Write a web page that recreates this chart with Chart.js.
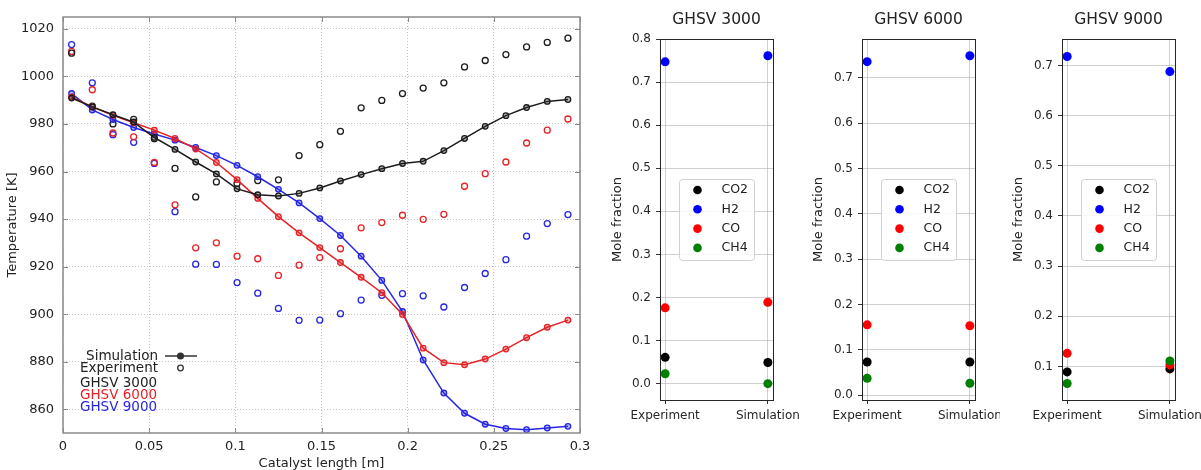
<!DOCTYPE html>
<html><head><meta charset="utf-8">
<script src="https://cdn.jsdelivr.net/npm/chart.js@4.4.1/dist/chart.umd.min.js"></script>
<style>
html,body{margin:0;padding:0;background:#fff;width:1201px;height:470px;overflow:hidden;}
canvas{position:absolute;top:0;}
</style></head><body>
<canvas id="main" width="600" height="470" style="left:0;width:600px;height:470px"></canvas>
<canvas id="p1" width="200" height="470" style="left:600px;width:200px;height:470px"></canvas>
<canvas id="p2" width="200" height="470" style="left:800px;width:200px;height:470px"></canvas>
<canvas id="p3" width="201" height="470" style="left:1000px;width:201px;height:470px"></canvas>
<script>
// ---------- data: temperature profiles ----------
const lengths = [0.005, 0.017, 0.029, 0.041, 0.053, 0.065, 0.077, 0.089, 0.101, 0.113, 0.125, 0.137, 0.149,
                 0.161, 0.173, 0.185, 0.197, 0.209, 0.221, 0.233, 0.245, 0.257, 0.269, 0.281, 0.293];
const sim3000 = [990.9, 987.2, 983.9, 980.8, 974.3, 969.3, 964.0, 959.0, 952.7, 950.2, 949.7, 950.8, 953.1,
                 956.0, 958.7, 961.2, 963.4, 964.3, 968.8, 973.9, 979.0, 983.5, 986.9, 989.5, 990.3];
const exp3000 = [1009.8, 987.5, 980.0, 981.9, 973.8, 961.3, 949.3, 955.6, 955.0, 956.2, 956.5, 966.7, 971.3,
                 976.9, 986.8, 989.9, 992.8, 995.1, 997.3, 1004.0, 1006.7, 1009.2, 1012.4, 1014.3, 1016.1];
const sim6000 = [991.4, 987.2, 983.7, 980.5, 977.4, 973.9, 969.5, 963.8, 956.6, 948.7, 941.0, 934.2, 928.0,
                 921.7, 915.5, 909.0, 899.9, 885.7, 879.6, 878.7, 881.1, 885.3, 890.1, 894.5, 897.5];
const exp6000 = [1010.5, 994.4, 976.2, 974.6, 963.8, 946.0, 927.9, 930.0, 924.4, 923.3, 916.3, 920.6, 923.8,
                 927.5, 936.3, 938.5, 941.6, 939.9, 942.0, 953.8, 959.1, 964.0, 972.0, 977.4, 982.1];
const sim9000 = [992.8, 985.9, 981.9, 978.5, 975.8, 973.2, 970.1, 966.7, 962.6, 957.8, 952.5, 946.8, 940.2,
                 933.1, 924.4, 914.2, 901.1, 880.7, 866.8, 858.3, 853.7, 851.9, 851.4, 852.1, 852.8];
const exp9000 = [1013.4, 997.3, 975.5, 972.3, 963.4, 943.1, 921.0, 920.9, 913.3, 908.8, 902.4, 897.4, 897.5,
                 900.2, 905.9, 907.9, 908.6, 907.7, 903.0, 911.2, 917.1, 922.9, 932.8, 938.1, 941.9];
const tempTicks = [860, 880, 900, 920, 940, 960, 980, 1000, 1020];
const lengthTicks = [0, 0.05, 0.1, 0.15, 0.2, 0.25, 0.3];
const lengthTickLabels = ['0', '0.05', '0.1', '0.15', '0.2', '0.25', '0.3'];

// ---------- data: outlet composition ----------
const species = ['CO2', 'H2', 'CO', 'CH4'];
const stages = ['Experiment', 'Simulation'];
const ghsv3000Experiment = [0.061, 0.747, 0.176, 0.023];
const ghsv3000Simulation = [0.049, 0.761, 0.189, 0.000];
const ghsv6000Experiment = [0.073, 0.736, 0.155, 0.037];
const ghsv6000Simulation = [0.073, 0.749, 0.153, 0.026];
const ghsv9000Experiment = [0.089, 0.718, 0.126, 0.066];
const ghsv9000Simulation = [0.095, 0.688, 0.103, 0.111];
const ticks3000 = [0, 0.1, 0.2, 0.3, 0.4, 0.5, 0.6, 0.7, 0.8];
const ticks6000 = [0, 0.1, 0.2, 0.3, 0.4, 0.5, 0.6, 0.7];
const ticks9000 = [0.1, 0.2, 0.3, 0.4, 0.5, 0.6, 0.7];

// ---------- styling ----------
const FONT = 'DejaVu Sans';
const cBlack = '#1c1c1c', cRed = 'rgb(230,34,38)', cBlue = 'rgb(38,38,228)';
const speciesColors = ['#000000', '#0000ff', '#ff0000', '#008000'];

function pts(xs, ys) { return xs.map((x, i) => ({ x: x, y: ys[i] })); }

function simSet(label, ys, col, fill) {
  return { label, data: pts(lengths, ys), showLine: true, borderColor: col, backgroundColor: col,
    borderWidth: 1.5, pointRadius: 2.8, pointBorderWidth: 1.3, pointBorderColor: col,
    pointBackgroundColor: fill, tension: 0 };
}
function expSet(label, ys, col) {
  return { label, data: pts(lengths, ys), showLine: false, borderColor: col, backgroundColor: 'rgba(0,0,0,0)',
    pointRadius: 3, pointBorderWidth: 1.3, pointBorderColor: col, pointBackgroundColor: 'rgba(255,255,255,0)' };
}

const mainDecor = {
  id: 'mainDecor',
  afterDraw(chart) {
    const { ctx, chartArea: a, scales: { x, y } } = chart;
    ctx.save();
    ctx.strokeStyle = '#8a8a8a';
    ctx.lineWidth = 1.5;
    ctx.strokeRect(a.left, a.top, a.right - a.left, a.bottom - a.top);
    ctx.lineWidth = 1;
    ctx.beginPath();
    tempTicks.forEach(v => {
      const py = Math.round(y.getPixelForValue(v)) + 0.5;
      ctx.moveTo(a.left, py); ctx.lineTo(a.left + 5, py);
      ctx.moveTo(a.right, py); ctx.lineTo(a.right - 5, py);
    });
    lengthTicks.forEach(v => {
      const px = Math.round(x.getPixelForValue(v)) + 0.5;
      ctx.moveTo(px, a.bottom); ctx.lineTo(px, a.bottom - 5);
      ctx.moveTo(px, a.top); ctx.lineTo(px, a.top + 5);
    });
    ctx.stroke();
    // key
    ctx.font = '13.5px "' + FONT + '"';
    ctx.textBaseline = 'middle';
    ctx.textAlign = 'right';
    ctx.fillStyle = '#222';
    ctx.fillText('Simulation', 158, 356);
    ctx.fillText('Experiment', 158, 368);
    ctx.strokeStyle = '#333';
    ctx.lineWidth = 1.5;
    ctx.beginPath(); ctx.moveTo(165, 356); ctx.lineTo(197, 356); ctx.stroke();
    ctx.beginPath(); ctx.arc(180.5, 356, 2.8, 0, Math.PI * 2); ctx.fillStyle = '#333'; ctx.fill(); ctx.stroke();
    ctx.lineWidth = 1.3;
    ctx.beginPath(); ctx.arc(180.5, 368, 2.8, 0, Math.PI * 2); ctx.stroke();
    ctx.textAlign = 'left';
    ctx.fillStyle = '#222'; ctx.fillText('GHSV 3000', 80, 383.5);
    ctx.fillStyle = cRed; ctx.fillText('GHSV 6000', 80, 395.5);
    ctx.fillStyle = cBlue; ctx.fillText('GHSV 9000', 80, 407);
    ctx.restore();
  }
};

new Chart(document.getElementById('main'), {
  type: 'scatter',
  data: {
    datasets: [
      simSet('Simulation GHSV 3000', sim3000, cBlack, 'rgba(40,40,40,0.35)'),
      simSet('Simulation GHSV 6000', sim6000, cRed, 'rgba(230,34,38,0.35)'),
      simSet('Simulation GHSV 9000', sim9000, cBlue, 'rgba(38,38,228,0.35)'),
      expSet('Experiment GHSV 3000', exp3000, cBlack),
      expSet('Experiment GHSV 6000', exp6000, cRed),
      expSet('Experiment GHSV 9000', exp9000, cBlue)
    ]
  },
  options: {
    responsive: false, animation: false, devicePixelRatio: 1,
    layout: { padding: { left: 0, top: 17, right: 20, bottom: 0 } },
    plugins: { legend: { display: false }, tooltip: { enabled: false }, title: { display: false } },
    scales: {
      x: {
        type: 'linear', min: 0, max: 0.3,
        afterBuildTicks(s) { s.ticks = lengthTicks.map(v => ({ value: v })); },
        afterFit(s) { s.height = 37; s.paddingLeft = 0; s.paddingRight = 0; },
        grid: { color: '#c4c4c4', lineWidth: 1, drawTicks: false },
        border: { display: false, dash: [1, 2] },
        ticks: { font: { family: FONT, size: 13 }, color: '#222', padding: 6, maxRotation: 0, autoSkip: false,
                 callback: (v, i) => lengthTickLabels[i] },
        title: { display: true, text: 'Catalyst length [m]', color: '#222',
                 font: { family: FONT, size: 13, lineHeight: 1 }, padding: { top: 0, bottom: 0 } }
      },
      y: {
        type: 'linear', min: 850, max: 1025,
        afterBuildTicks(s) { s.ticks = tempTicks.map(v => ({ value: v })); },
        afterFit(s) { s.width = 63; s.paddingTop = 0; s.paddingBottom = 0; },
        grid: { color: '#c4c4c4', lineWidth: 1, drawTicks: false },
        border: { display: false, dash: [1, 2] },
        ticks: { font: { family: FONT, size: 13 }, color: '#222', padding: 9, callback: v => String(v) },
        title: { display: true, text: 'Temperature [K]', color: '#222',
                 font: { family: FONT, size: 13, lineHeight: 1 }, padding: { top: 6, bottom: 0 } }
      }
    }
  },
  plugins: [mainDecor]
});

// ---------- composition panels ----------
function makePanel(id, title, expVals, simVals, yMin, yMax, yTicks, L, R, titlePad) {
  const deco = {
    id: 'deco_' + id,
    afterDraw(chart) {
      const { ctx, chartArea: a } = chart;
      ctx.save();
      ctx.strokeStyle = '#262626'; ctx.lineWidth = 1;
      ctx.strokeRect(Math.round(a.left) + 0.5, Math.round(a.top) + 0.5,
                     Math.round(a.right - a.left), Math.round(a.bottom - a.top));
      const cx = (a.left + a.right) / 2;
      ctx.fillStyle = '#222';
      ctx.font = '15.5px "' + FONT + '"';
      ctx.textAlign = 'center'; ctx.textBaseline = 'middle';
      ctx.fillText(title, cx, 20);
      // legend box
      const bw = 75, bh = 81;
      const bx = cx - bw / 2, by = (a.top + a.bottom) / 2 - bh / 2;
      ctx.beginPath();
      if (ctx.roundRect) ctx.roundRect(bx + 0.5, by + 0.5, bw, bh, 3); else ctx.rect(bx + 0.5, by + 0.5, bw, bh);
      ctx.fillStyle = 'rgba(255,255,255,0.85)'; ctx.fill();
      ctx.strokeStyle = '#d0d0d0'; ctx.stroke();
      ctx.font = '12.5px "' + FONT + '"';
      ctx.textAlign = 'left';
      chart.data.datasets.forEach((ds, i) => {
        const ry = by + 11 + i * 19.3;
        ctx.beginPath(); ctx.arc(bx + 18.5, ry, 4.3, 0, Math.PI * 2);
        ctx.fillStyle = ds.backgroundColor; ctx.fill();
        ctx.fillStyle = '#222';
        ctx.fillText(ds.label, bx + 42.5, ry);
      });
      ctx.restore();
    }
  };
  new Chart(document.getElementById(id), {
    type: 'scatter',
    data: {
      datasets: species.map((sp, i) => ({
        label: sp,
        data: [{ x: 0, y: expVals[i] }, { x: 1, y: simVals[i] }],
        backgroundColor: speciesColors[i], borderColor: speciesColors[i],
        pointRadius: 4.5, pointBorderWidth: 0, order: species.length - i
      }))
    },
    options: {
      responsive: false, animation: false, devicePixelRatio: 1,
      layout: { padding: { left: 0, top: 39, right: R, bottom: 0 } },
      plugins: { legend: { display: false }, tooltip: { enabled: false } },
      scales: {
        x: {
          type: 'linear', min: -0.05, max: 1.05,
          afterBuildTicks(s) { s.ticks = [{ value: 0 }, { value: 1 }]; },
          afterFit(s) { s.height = 70; s.paddingLeft = 0; s.paddingRight = 0; },
          grid: { color: 'rgba(176,176,176,0.6)', lineWidth: 1, tickLength: 4, tickColor: '#333' },
          border: { display: false },
          ticks: { font: { family: FONT, size: 12 }, color: '#262626', padding: 5, maxRotation: 0, autoSkip: false,
                   callback: (v, i) => stages[i] }
        },
        y: {
          type: 'linear', min: yMin, max: yMax,
          afterBuildTicks(s) { s.ticks = yTicks.map(v => ({ value: v })); },
          afterFit(s) { s.width = L; s.paddingTop = 0; s.paddingBottom = 0; },
          grid: { color: 'rgba(176,176,176,0.6)', lineWidth: 1, tickLength: 4, tickColor: '#333' },
          border: { display: false },
          ticks: { font: { family: FONT, size: 12 }, color: '#262626', padding: 5, callback: v => v.toFixed(1) },
          title: { display: true, text: 'Mole fraction', color: '#222',
                   font: { family: FONT, size: 13, lineHeight: 1 }, padding: { top: titlePad, bottom: 0 } }
        }
      }
    },
    plugins: [deco]
  });
}

makePanel('p1', 'GHSV 3000', ghsv3000Experiment, ghsv3000Simulation, -0.038, 0.8, ticks3000, 60, 27, 11.5);
makePanel('p2', 'GHSV 6000', ghsv6000Experiment, ghsv6000Simulation, -0.011, 0.786, ticks6000, 62, 25, 12.5);
makePanel('p3', 'GHSV 9000', ghsv9000Experiment, ghsv9000Simulation, 0.033, 0.753, ticks9000, 62, 26, 12.5);
</script>
</body></html>
